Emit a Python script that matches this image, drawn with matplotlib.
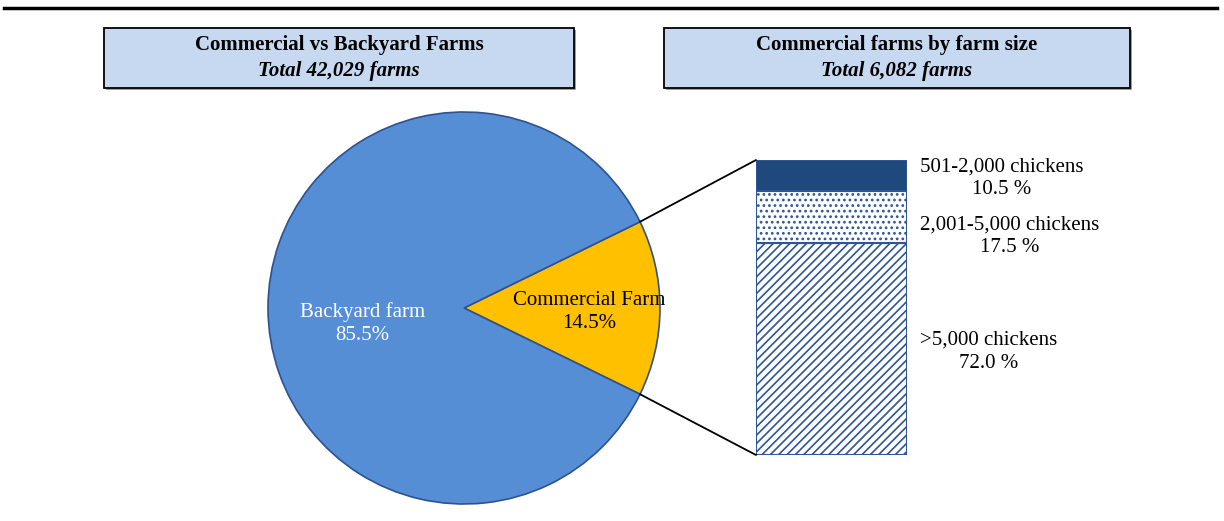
import numpy as np
import matplotlib
matplotlib.use("Agg")
import matplotlib.pyplot as plt
from matplotlib.patches import ConnectionPatch, FancyBboxPatch

plt.rcParams['font.family'] = ['Liberation Serif', 'DejaVu Serif']
plt.rcParams['hatch.linewidth'] = 1.2

# farm type split
farm_types = ["Commercial Farm", "Backyard farm"]
farm_share = [14.5, 85.5]

# commercial farms by size, bottom to top
size_labels = [">5,000 chickens", "2,001-5,000 chickens", "501-2,000 chickens"]
size_share = [72.0, 17.5, 10.5]

titles = ["Commercial vs Backyard Farms", "Commercial farms by farm size"]
subtitles = ["Total 42,029 farms", "Total 6,082 farms"]

W, H = 1224, 521
fig = plt.figure(figsize=(W / 100, H / 100), dpi=100)

def frac(x0, y0, x1, y1):
    # pixel box (top-left origin) -> figure fraction rect
    return [x0 / W, 1 - y1 / H, (x1 - x0) / W, (y1 - y0) / H]

# top rule
fig.add_artist(plt.Line2D([4 / W, 1217 / W], [1 - 8 / H, 1 - 8 / H],
                          color='black', lw=2.5, transform=fig.transFigure))

# title boxes
for (x0, x1), t, s in zip([(104, 574), (664, 1130)], titles, subtitles):
    r = frac(x0, 28, x1, 88)
    shadow = FancyBboxPatch((r[0] + 2 / W, r[1] - 2 / H), r[2], r[3],
                            boxstyle="square,pad=0", transform=fig.transFigure,
                            fc='#a0a0a0', ec='none')
    box = FancyBboxPatch((r[0], r[1]), r[2], r[3], boxstyle="square,pad=0",
                         transform=fig.transFigure, fc='#C6D9F0', ec='black', lw=1.3)
    fig.add_artist(shadow)
    fig.add_artist(box)
    cx = r[0] + r[2] / 2
    fig.text(cx, 1 - 45 / H, t, ha='center', va='center', fontsize=15, fontweight='bold')
    fig.text(cx, 1 - 71 / H, s, ha='center', va='center', fontsize=15,
             fontweight='bold', style='italic')

# pie
R = 196
ax1 = fig.add_axes(frac(464 - R, 308 - R, 464 + R, 308 + R))
start = -farm_share[0] * 3.6 / 2
wedges, _ = ax1.pie(farm_share, colors=['#FFC000', '#558ED5'], startangle=start,
                    counterclock=True, radius=1,
                    wedgeprops=dict(edgecolor='#2F528F', linewidth=1.2))
ax1.set_xlim(-1, 1)
ax1.set_ylim(-1, 1)
ax1.set_aspect('equal')
ax1.axis('off')

# label placement inside each wedge (distance, vertical nudge)
for w, name, val, dist, dy, col in zip(wedges, farm_types, farm_share, [0.64, 0.52],
                                       [-0.02, -0.08], ['black', 'white']):
    ang = np.deg2rad((w.theta1 + w.theta2) / 2)
    x, y = dist * np.cos(ang), dist * np.sin(ang)
    ax1.text(x, y + dy, f"{name}\n{val}%", ha='center', va='center', fontsize=15,
             color=col, linespacing=1.3)

# stacked bar
ax2 = fig.add_axes(frac(756, 160, 907, 455))
hatches = ['////', '...', None]
faces = ['white', 'white', '#1F497D']
bottom = 0
mids = []
for val, h, fc in zip(size_share, hatches, faces):
    ax2.bar(0, val, width=1, bottom=bottom, color=fc, hatch=h,
            edgecolor='#2F5597', linewidth=1.5)
    mids.append(bottom + val / 2)
    bottom += val
ax2.set_xlim(-0.5, 0.5)
ax2.set_ylim(0, 100)
ax2.axis('off')

offsets = [-2, -14, -2]
for lab, val, m, off in zip(size_labels, size_share, mids, offsets):
    ax2.annotate(f"{lab}\n{val:.1f} %", xy=(1.086, m), xycoords=('axes fraction', 'data'),
                 xytext=(0, off), textcoords='offset points', ha='left', va='center',
                 multialignment='center', fontsize=15, linespacing=1.3,
                 annotation_clip=False)

# connector lines from the commercial wedge to the bar
com = wedges[0]
for theta, yb in [(com.theta2, 100), (com.theta1, 0)]:
    a = np.deg2rad(theta)
    con = ConnectionPatch(xyA=(np.cos(a), np.sin(a)), coordsA=ax1.transData,
                          xyB=(-0.5, yb), coordsB=ax2.transData,
                          color='black', lw=1.3)
    fig.add_artist(con)

fig.savefig("out.png", dpi=100)
